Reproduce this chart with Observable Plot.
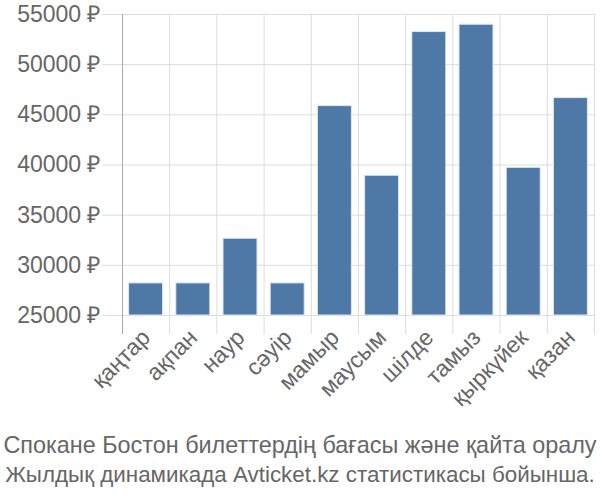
<!DOCTYPE html>
<html>
<head>
<meta charset="utf-8">
<script src="https://cdn.jsdelivr.net/npm/d3@7"></script>
<script src="https://cdn.jsdelivr.net/npm/@observablehq/plot@0.6"></script>
<style>
  html, body { margin: 0; padding: 0; background: #fff; }
  #chart { width: 600px; }
  #chart svg text { font-family: "Liberation Sans", Arial, sans-serif !important; font-size: 23px !important; }
  .caption { font-family: "Liberation Sans", Arial, sans-serif; color: #666; text-align: center; line-height: 30px; white-space: nowrap; }
  .caption div:nth-child(1) { font-size: 23.4px; }
  .caption div:nth-child(2) { font-size: 22.4px; }
</style>
</head>
<body>
<div id="chart"></div>
<script>
const categories = ["қаңтар", "ақпан", "наур", "сәуір", "мамыр", "маусым", "шілде", "тамыз", "қыркүйек", "қазан"];
const prices = [28200, 28200, 32650, 28200, 45870, 38930, 53250, 53980, 39720, 46670];
const yTicks = [25000, 30000, 35000, 40000, 45000, 50000, 55000];
const captionLines = ["Спокане Бостон билеттердің бағасы және қайта оралу", "Жылдық динамикада Avticket.kz статистикасы бойынша."];

const bounds = d3.range(categories.length + 1);
const pad = 0.14;

const chart = Plot.plot({
  width: 600,
  height: 430,
  marginTop: 14,
  marginLeft: 122,
  marginRight: 6,
  marginBottom: 115,
  x: { type: "linear", domain: [0, categories.length], axis: null },
  y: { domain: [25000, 55000], axis: null },
  style: { fontFamily: "'Liberation Sans', Arial, sans-serif", fontSize: "23px", background: "#fff" },
  marks: [
    Plot.gridY(yTicks, { stroke: "#ddd", strokeOpacity: 1, strokeWidth: 1 }),
    Plot.gridX(bounds, { stroke: "#ddd", strokeOpacity: 1, strokeWidth: 1 }),
    Plot.axisX(bounds, { anchor: "bottom", tickSize: 19, tickFormat: () => "", stroke: "#ddd", strokeOpacity: 1 }),
    Plot.axisX([0], { anchor: "bottom", tickSize: 19, tickFormat: () => "", stroke: "#aaa", strokeOpacity: 1 }),
    Plot.gridX([0], { stroke: "#aaa", strokeOpacity: 1 }),
    Plot.axisY(yTicks, { anchor: "left", tickSize: 20, tickPadding: 2, tickFormat: d => `${d} ₽`, stroke: "#ddd", strokeOpacity: 1, fill: "#666", fontSize: 23 }),
    Plot.rectY(prices, {
      x1: (d, i) => i + pad,
      x2: (d, i) => i + 1 - pad,
      y1: 25000,
      y2: d => d,
      fill: "#4e79a7",
      stroke: "#dfe7f0",
      strokeWidth: 1
    }),
    Plot.text(categories, {
      x: (d, i) => i + 0.5,
      frameAnchor: "bottom",
      text: d => d,
      rotate: -45,
      textAnchor: "end",
      lineAnchor: "top",
      dx: -6,
      dy: 12,
      fill: "#666",
      fontSize: 23
    })
  ]
});
document.getElementById("chart").appendChild(chart);
const cap = document.createElement("div");
cap.className = "caption";
cap.innerHTML = captionLines.map(s => `<div>${s}</div>`).join("");
document.getElementById("chart").appendChild(cap);
</script>
</body>
</html>
